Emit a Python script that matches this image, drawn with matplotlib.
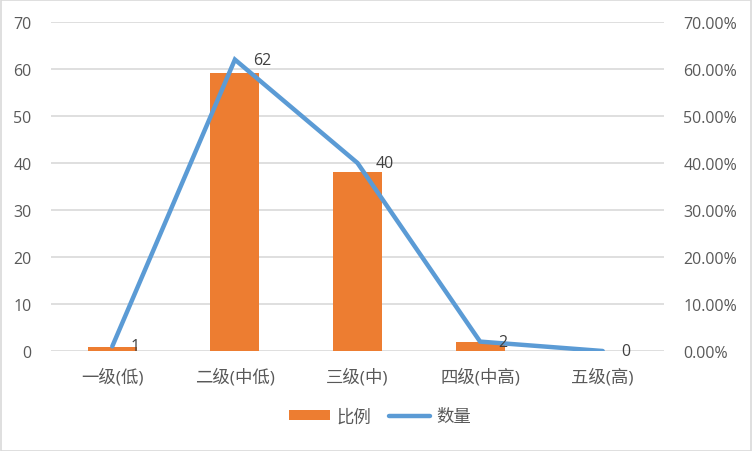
import matplotlib
matplotlib.use("Agg")
import matplotlib.pyplot as plt
from matplotlib.ticker import FuncFormatter, MultipleLocator
from matplotlib.patches import Rectangle

plt.rcParams['font.family'] = ['Open Sans', 'Noto Sans CJK SC', 'DejaVu Sans']

categories = ["一级(低)", "二级(中低)", "三级(中)", "四级(中高)", "五级(高)"]
counts = [1, 62, 40, 2, 0]
ratios = [0.0095, 0.5905, 0.3810, 0.0190, 0.0]

ORANGE = "#ED7D31"
BLUE = "#5B9BD5"
GRID = "#D9D9D9"
TEXT = "#595959"

fig = plt.figure(figsize=(7.52, 4.52), dpi=100)
fig.patches.append(Rectangle((0.001, 0.001), 0.998, 0.997, transform=fig.transFigure,
                             fill=False, edgecolor=GRID, linewidth=1.2))

ax = fig.add_axes([51 / 752, 1 - 352 / 452, 613 / 752, 329 / 452])
ax2 = ax.twinx()

x = list(range(len(categories)))

# bars on the right (percentage) axis
bars = ax2.bar(x, ratios, width=0.4, color=ORANGE, label="比例", zorder=2)
ax2.set_ylim(0, 0.7)
ax2.yaxis.set_major_locator(MultipleLocator(0.1))
ax2.yaxis.set_major_formatter(FuncFormatter(lambda v, p: f"{v * 100:.2f}%"))

# line on the left (count) axis, drawn above the bars
ax.set_zorder(ax2.get_zorder() + 1)
ax.patch.set_visible(False)
line, = ax.plot(x, counts, color=BLUE, linewidth=3.2, solid_capstyle="round",
                solid_joinstyle="miter", label="数量", zorder=3)
ax.set_ylim(0, 70)
ax.yaxis.set_major_locator(MultipleLocator(10))
ax.set_xlim(-0.5, len(categories) - 0.5)
ax.set_xticks(x)
ax.set_xticklabels(categories, fontsize=12.5)

for xi, c in zip(x, counts):
    ax.annotate(str(c), (xi, c), xytext=(13, 0), textcoords="offset points",
                ha="left", va="center", fontsize=11.5, color="#404040", zorder=4)

for a in (ax, ax2):
    for s in a.spines.values():
        s.set_visible(False)
    a.tick_params(length=0, labelsize=11.5, labelcolor=TEXT)

ax.tick_params(axis="x", labelsize=12.5, pad=12)
ax.tick_params(axis="y", pad=14)
ax2.tick_params(axis="y", pad=14)

# horizontal gridlines
for v in range(0, 71, 10):
    ax2.axhline(v / 100, color=GRID, linewidth=1.2, zorder=0)

fig.legend(handles=[bars, line], labels=["比例", "数量"], loc="center",
           bbox_to_anchor=(380 / 752, 1 - 418 / 452), ncol=2, frameon=False,
           prop={'size': 12.5}, labelcolor=TEXT, handlelength=2.4,
           handleheight=0.55, columnspacing=1.0, handletextpad=0.35)

fig.savefig("out.png", dpi=100)
